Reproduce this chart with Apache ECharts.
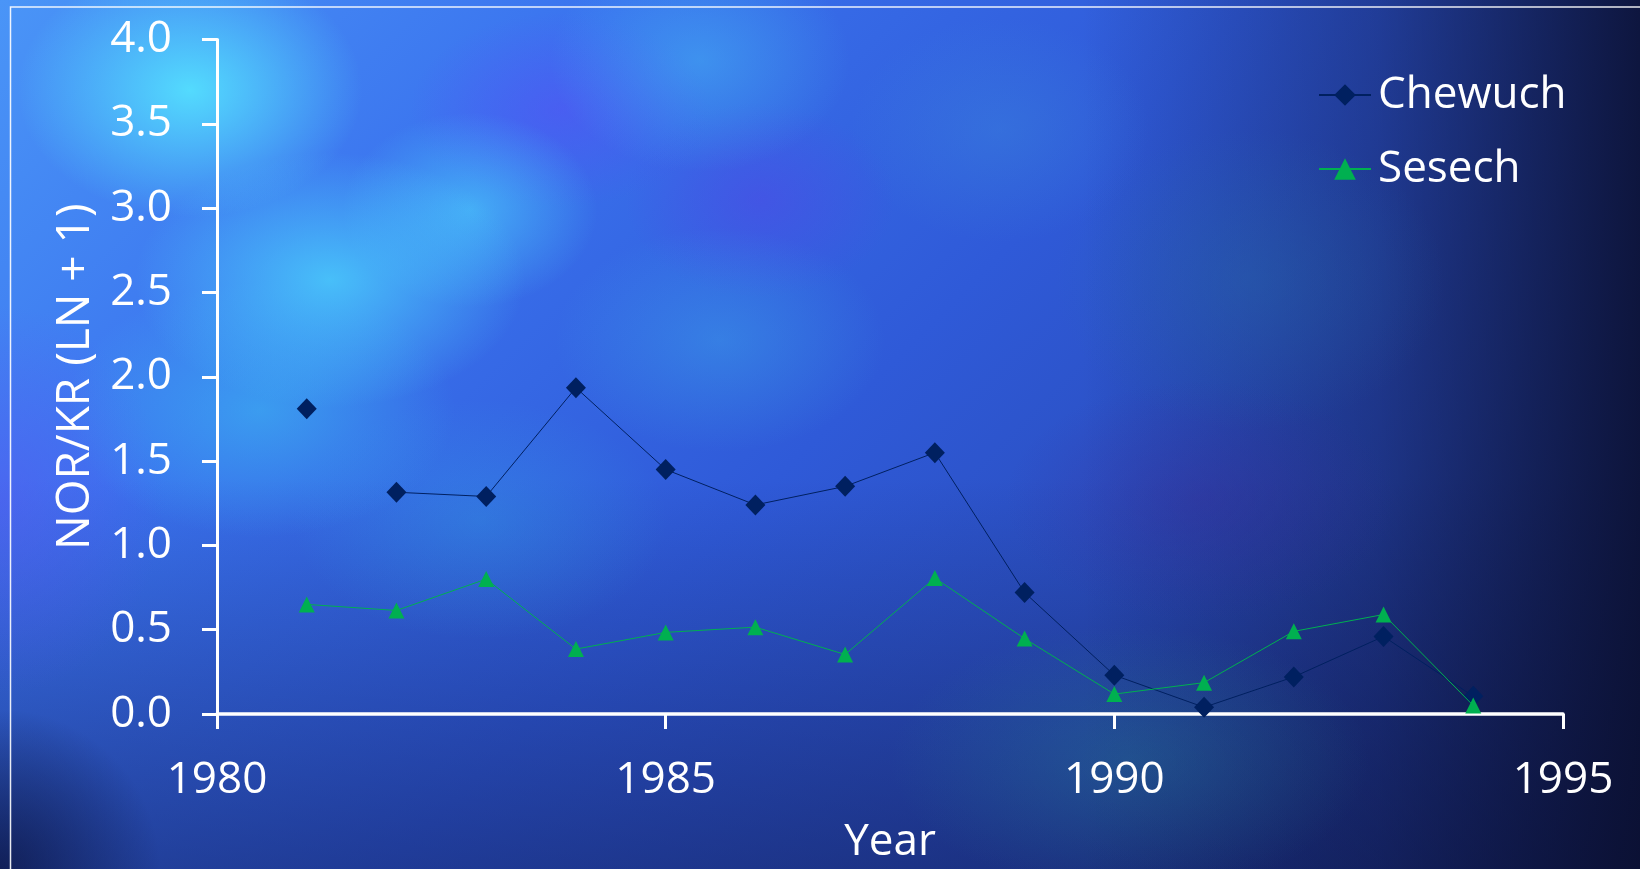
<!DOCTYPE html>
<html>
<head>
<meta charset="utf-8">
<script src="https://cdn.jsdelivr.net/npm/echarts@6/dist/echarts.min.js"></script>
<style>
  html, body { margin: 0; padding: 0; width: 1640px; height: 869px; overflow: hidden; background: #1a2a80; }
  #bg {
    position: absolute; left: 0; top: 0; width: 1640px; height: 869px;
    background:
      radial-gradient(ellipse 230px 170px at 190px 90px, rgba(85,228,255,0.9), rgba(85,228,255,0) 75%),
      radial-gradient(ellipse 260px 170px at 330px 280px, rgba(75,210,252,0.8), rgba(75,210,252,0) 75%),
      radial-gradient(ellipse 170px 130px at 470px 210px, rgba(75,205,252,0.65), rgba(75,205,252,0) 75%),
      radial-gradient(ellipse 260px 170px at 260px 410px, rgba(60,185,242,0.6), rgba(60,185,242,0) 75%),
      radial-gradient(ellipse 200px 150px at 700px 60px, rgba(70,190,245,0.45), rgba(70,190,245,0) 75%),
      radial-gradient(ellipse 220px 150px at 720px 340px, rgba(60,170,235,0.4), rgba(60,170,235,0) 75%),
      radial-gradient(ellipse 250px 160px at 480px 520px, rgba(50,160,230,0.35), rgba(50,160,230,0) 75%),
      radial-gradient(ellipse 200px 130px at 560px 110px, rgba(85,80,245,0.55), rgba(85,80,245,0) 75%),
      radial-gradient(ellipse 180px 130px at 760px 200px, rgba(80,70,230,0.5), rgba(80,70,230,0) 75%),
      radial-gradient(ellipse 200px 150px at 1000px 130px, rgba(60,140,220,0.35), rgba(60,140,220,0) 75%),
      radial-gradient(ellipse 260px 200px at 1250px 280px, rgba(40,110,170,0.35), rgba(40,110,170,0) 75%),
      radial-gradient(ellipse 260px 160px at 1200px 500px, rgba(60,40,150,0.35), rgba(60,40,150,0) 75%),
      radial-gradient(ellipse 320px 180px at 1130px 760px, rgba(40,130,150,0.35), rgba(40,130,150,0) 75%),
      radial-gradient(ellipse 220px 260px at 0px 500px, rgba(90,80,240,0.45), rgba(90,80,240,0) 75%),
      linear-gradient(to right, rgba(10,15,50,0) 0%, rgba(10,15,50,0) 66%, rgba(12,18,60,0.38) 84%, rgba(10,14,45,0.88) 100%),
      linear-gradient(to bottom, rgba(10,20,70,0) 55%, rgba(12,20,70,0.45) 100%),
      radial-gradient(ellipse 200px 200px at 0px 869px, rgba(8,14,50,0.7), rgba(8,14,50,0) 80%),
      linear-gradient(135deg, #4a95f7 0%, #3a72ee 25%, #2f5ad8 50%, #2849b4 75%, #1c3284 100%);
  }
  #chart { position: absolute; left: 0; top: 0; width: 1640px; height: 869px; }
</style>
</head>
<body>
<div id="bg"></div>
<div id="chart"></div>
<script>
// ---- data ----
const years = [1981, 1982, 1983, 1984, 1985, 1986, 1987, 1988, 1989, 1990, 1991, 1992, 1993, 1994];
const chewuch = [1.81, 1.315, 1.29, 1.935, 1.45, 1.24, 1.35, 1.55, 0.72, 0.23, 0.04, 0.22, 0.46, 0.105];
const sesech  = [0.65, 0.614, 0.80, 0.385, 0.484, 0.515, 0.353, 0.806, 0.447, 0.118, 0.186, 0.49, 0.59, 0.05];
const seriesNames = ['Chewuch', 'Sesech'];
const chewuchLineStart = 1; // first Chewuch point is not joined to the line in the original
const xTicks = [1980, 1985, 1990, 1995];
const yTicks = [0, 0.5, 1.0, 1.5, 2.0, 2.5, 3.0, 3.5, 4.0];
const xTitle = 'Year';
const yTitle = 'NOR/KR (LN + 1)';

const FONT = '"Open Sans", "Noto Sans", sans-serif';
const navy = '#002060';
const green = '#00b050';

const pairs = (vals) => years.map((y, i) => [y, vals[i]]);
const chewuchPairs = pairs(chewuch);

const chart = echarts.init(document.getElementById('chart'), null, { renderer: 'canvas' });
chart.setOption({
  backgroundColor: 'transparent',
  animation: false,
  grid: { left: 217, right: 77, top: 39.5, bottom: 155, containLabel: false },
  xAxis: {
    type: 'value',
    min: xTicks[0], max: xTicks[xTicks.length - 1], interval: xTicks[1] - xTicks[0],
    name: xTitle, nameLocation: 'middle', nameGap: 106,
    nameTextStyle: { color: '#fff', fontSize: 44, fontFamily: FONT },
    axisLine: { show: true, lineStyle: { color: '#fff', width: 3.5 } },
    axisTick: { show: true, length: 15, lineStyle: { color: '#fff', width: 3 } },
    axisLabel: { color: '#fff', fontSize: 44, fontFamily: FONT, margin: 44, formatter: (v) => String(v) },
    splitLine: { show: false }
  },
  yAxis: {
    type: 'value',
    min: yTicks[0], max: yTicks[yTicks.length - 1], interval: yTicks[1] - yTicks[0],
    name: yTitle, nameLocation: 'middle', nameGap: 118, nameRotate: 90,
    nameTextStyle: { color: '#fff', fontSize: 46, fontFamily: FONT },
    axisLine: { show: true, lineStyle: { color: '#fff', width: 3 } },
    axisTick: { show: true, length: 15, lineStyle: { color: '#fff', width: 3 } },
    axisLabel: { color: '#fff', fontSize: 44, fontFamily: FONT, margin: 45, formatter: (v) => v.toFixed(1) },
    splitLine: { show: false }
  },
  legend: {
    orient: 'vertical', left: 1313, top: 68, itemGap: 30,
    itemWidth: 52, itemHeight: 27,
    data: seriesNames,
    textStyle: { color: '#fff', fontSize: 44, fontFamily: FONT, padding: [0, 0, 0, 2] }
  },
  series: [
    {
      name: seriesNames[0], type: 'line',
      data: chewuchPairs.slice(chewuchLineStart),
      symbol: 'diamond', symbolSize: [20, 21],
      itemStyle: { color: navy },
      lineStyle: { color: navy, width: 1 },
      z: 3
    },
    {
      name: seriesNames[0], type: 'line',
      data: chewuchPairs.slice(0, chewuchLineStart),
      symbol: 'diamond', symbolSize: [20, 21],
      itemStyle: { color: navy },
      lineStyle: { color: navy, width: 1 },
      z: 3
    },
    {
      name: seriesNames[1], type: 'line',
      data: pairs(sesech),
      symbol: 'triangle', symbolSize: [16, 16],
      itemStyle: { color: green },
      lineStyle: { color: green, width: 1 },
      z: 4
    }
  ],
  graphic: [
    {
      type: 'rect', silent: true, z: 0,
      shape: { x: 10.5, y: 7, width: 1700, height: 900 },
      style: { fill: 'none', stroke: 'rgba(255,255,255,0.9)', lineWidth: 1.5 }
    }
  ]
});
</script>
</body>
</html>
